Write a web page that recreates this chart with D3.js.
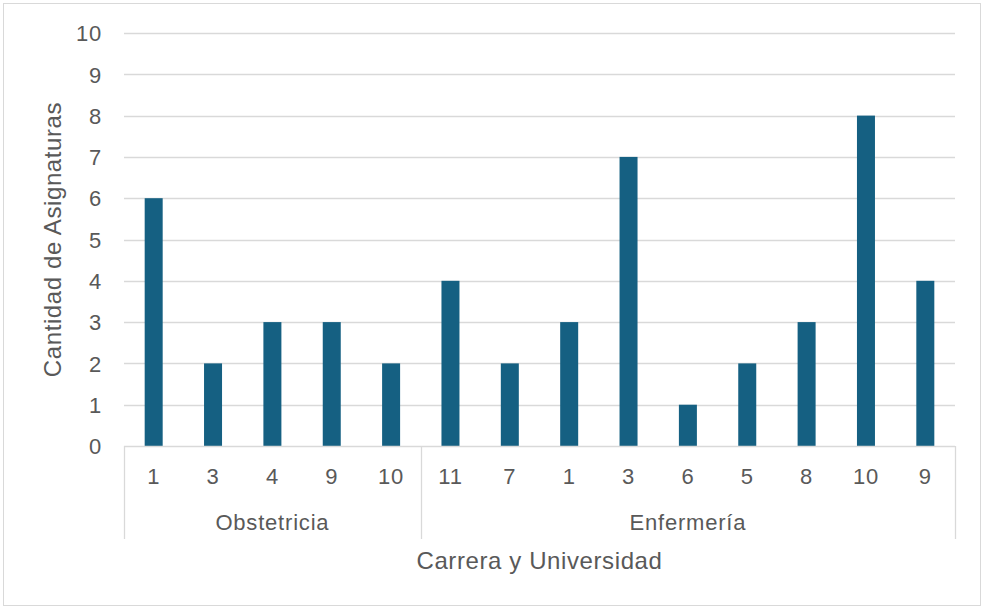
<!DOCTYPE html>
<html lang="es">
<head>
<meta charset="UTF-8">
<title>Cantidad de Asignaturas</title>
<script src="https://d3js.org/d3.v7.min.js"></script>
<style>
    body { margin: 0; background: #fff; }
    svg { display: block; }
</style>
</head>
<body>
<svg id="chart" width="984" height="609"></svg>
<script>
    // data
    const groups = ["Obstetricia", "Enfermería"];
    const groupSizes = [5, 9];
    const universities = ["1", "3", "4", "9", "10", "11", "7", "1", "3", "6", "5", "8", "10", "9"];
    const subjects = [6, 2, 3, 3, 2, 4, 2, 3, 7, 1, 2, 3, 8, 4];
    const yTicks = [0, 1, 2, 3, 4, 5, 6, 7, 8, 9, 10];

    const width = 984, height = 609;
    const margin = { left: 124, right: 29, top: 33, bottom: 163 };
    const font = "'Liberation Sans', Arial, sans-serif";
    const textColor = "#595959";
    const lineColor = "#d9d9d9";

    const svg = d3.select("#chart").attr("font-family", font);

    // outer frame
    svg.append("rect")
        .attr("x", 3.5).attr("y", 3.5)
        .attr("width", width - 7).attr("height", height - 7)
        .attr("fill", "#fff").attr("stroke", lineColor);

    const x = d3.scaleBand()
        .domain(d3.range(subjects.length))
        .range([margin.left, width - margin.right]);

    const y = d3.scaleLinear()
        .domain([0, 10])
        .range([height - margin.bottom, margin.top]);

    // gridlines
    svg.append("g")
        .selectAll("line")
        .data(yTicks.filter(d => d > 0))
        .join("line")
        .attr("x1", margin.left).attr("x2", width - margin.right)
        .attr("y1", d => Math.round(y(d)) + 0.5).attr("y2", d => Math.round(y(d)) + 0.5)
        .attr("stroke", lineColor).attr("stroke-width", 1.3);

    // y axis labels
    const yAxis = svg.append("g")
        .attr("transform", `translate(${margin.left},0)`)
        .call(d3.axisLeft(y).tickValues(yTicks).tickSize(0).tickPadding(22));
    yAxis.attr("font-family", font).attr("font-size", 22);
    yAxis.select(".domain").remove();
    yAxis.selectAll("text").attr("fill", textColor).attr("dy", "0.35em").attr("letter-spacing", 0.8);

    // bars
    const barW = 18;
    svg.append("g")
        .selectAll("rect")
        .data(subjects)
        .join("rect")
        .attr("x", (d, i) => x(i) + (x.bandwidth() - barW) / 2)
        .attr("y", d => y(d))
        .attr("width", barW)
        .attr("height", d => y(0) - y(d))
        .attr("fill", "#156082");

    // category axis
    const y0 = y(0);
    const xAxis = svg.append("g")
        .attr("transform", `translate(0,${y0})`)
        .call(d3.axisBottom(x).tickFormat(i => universities[i]).tickSize(0).tickPadding(22));
    xAxis.attr("font-family", font).attr("font-size", 22);
    xAxis.select(".domain").remove();
    xAxis.selectAll("text").attr("fill", textColor).attr("letter-spacing", 0.8);

    svg.append("line")
        .attr("x1", margin.left).attr("x2", width - margin.right)
        .attr("y1", y0 + 0.5).attr("y2", y0 + 0.5)
        .attr("stroke", lineColor).attr("stroke-width", 1.3);

    // group separators and labels
    let start = 0;
    const bounds = [0];
    groupSizes.forEach(n => { start += n; bounds.push(start); });

    const edge = i => i < subjects.length ? Math.round(x(i)) + 0.5 : Math.round(x(i - 1) + x.bandwidth()) + 0.5;
    svg.append("g")
        .selectAll("line")
        .data(bounds)
        .join("line")
        .attr("x1", edge).attr("x2", edge)
        .attr("y1", y0).attr("y2", y0 + 93)
        .attr("stroke", lineColor).attr("stroke-width", 1.3);

    svg.append("g")
        .selectAll("text")
        .data(groups)
        .join("text")
        .attr("x", (d, k) => (x(bounds[k]) + x(bounds[k + 1] - 1) + x.bandwidth()) / 2)
        .attr("y", y0 + 84)
        .attr("text-anchor", "middle")
        .attr("fill", textColor)
        .attr("font-size", 22)
        .attr("letter-spacing", 0.8)
        .text(d => d);

    // axis titles
    svg.append("text")
        .attr("x", (margin.left + width - margin.right) / 2)
        .attr("y", 569)
        .attr("text-anchor", "middle")
        .attr("fill", textColor)
        .attr("font-size", 24)
        .attr("letter-spacing", 0.6)
        .text("Carrera y Universidad");

    svg.append("text")
        .attr("transform", `translate(61,${(margin.top + y0) / 2}) rotate(-90)`)
        .attr("text-anchor", "middle")
        .attr("fill", textColor)
        .attr("font-size", 24)
        .attr("letter-spacing", 0.6)
        .text("Cantidad de Asignaturas");
</script>
</body>
</html>
